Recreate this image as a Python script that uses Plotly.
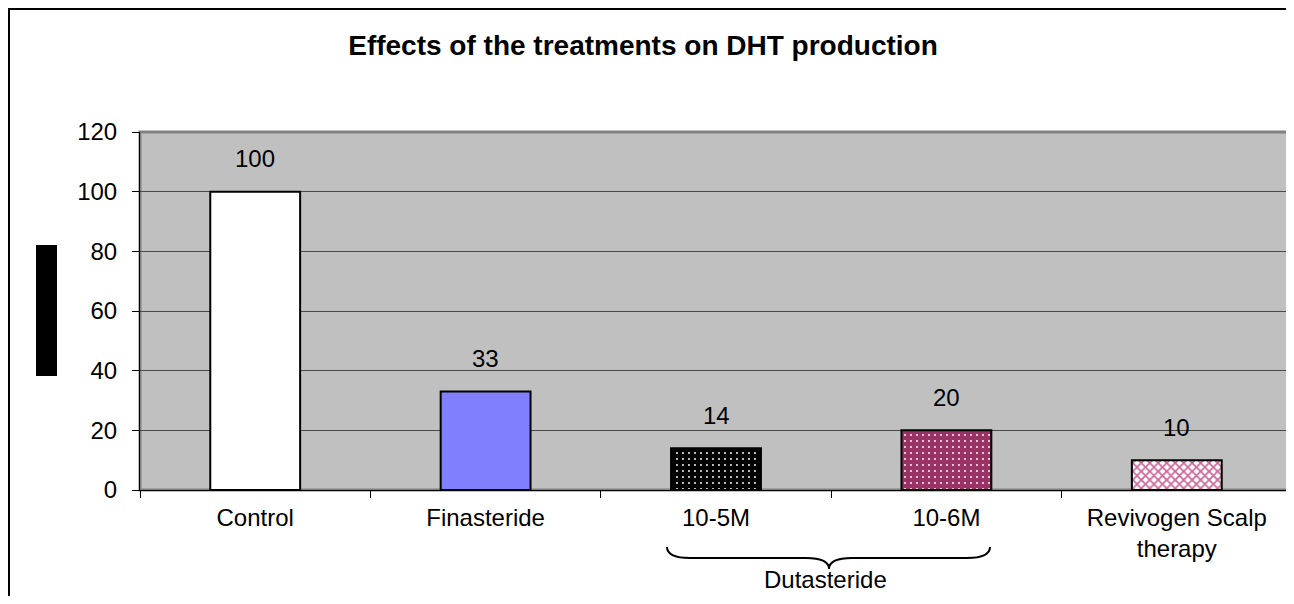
import plotly.graph_objects as go

categories = ["Control", "Finasteride", "10-5M", "10-6M", "Revivogen Scalp therapy"]
tick_labels = ["Control", "Finasteride", "10-5M", "10-6M", "Revivogen Scalp<br>therapy"]
values = [100, 33, 14, 20, 10]
y_ticks = [0, 20, 40, 60, 80, 100, 120]
title_text = "Effects of the treatments on DHT production"
group_label = "Dutasteride"

bar_colors = ["#FFFFFF", "#8080FF", "#000000", "#993366", "#FFFFFF"]
pattern_shapes = ["", "", ".", ".", "x"]
pattern_fg = ["#FFFFFF", "#FFFFFF", "#FFFFFF", "#FFFFFF", "#CC6699"]
pattern_solidity = [0.1, 0.1, 0.08, 0.08, 0.5]

# screen geometry (page has an 8px body margin)
W, H = 1294, 604
OFF = 8
FIG_W, FIG_H = W - 2 * OFF, H - 2 * OFF
L, R, T, B = 140, OFF + FIG_W, 132, 490     # plot area, screen px
CAT_STEP = 230.4                              # reference px per category
FONT = "Liberation Sans, Arial, sans-serif"
FS = 24


def px_x(px):
    return (px - L) / (R - L)


def px_y(py):
    return (B - py) / (B - T)


fig = go.Figure()
for c, v, col, shp, fg, sol in zip(categories, values, bar_colors,
                                   pattern_shapes, pattern_fg, pattern_solidity):
    fig.add_trace(go.Bar(
        x=[c], y=[v], width=0.39,
        marker=dict(
            color=col,
            line=dict(color="#000000", width=2),
            pattern=dict(shape=shp, fgcolor=fg, fgopacity=1,
                         size=6, solidity=sol, fillmode="overlay"),
        ),
        hoverinfo="skip",
    ))

for c, v in zip(categories, values):
    fig.add_annotation(x=c, y=v, text=str(v), showarrow=False,
                       yshift=33, yanchor="middle",
                       font=dict(family=FONT, size=FS, color="#000000"))

# Dutasteride brace
bx = [667, 690, 806, 829, 852, 967, 990]
by = [547, 558, 558, 569, 558, 558, 547]
path = (f"M {px_x(bx[0])},{px_y(by[0])} "
        f"Q {px_x(bx[0])},{px_y(by[1])} {px_x(bx[1])},{px_y(by[1])} "
        f"L {px_x(bx[2])},{px_y(by[2])} "
        f"Q {px_x(bx[3])},{px_y(by[2])} {px_x(bx[3])},{px_y(by[3])} "
        f"Q {px_x(bx[3])},{px_y(by[4])} {px_x(bx[4])},{px_y(by[4])} "
        f"L {px_x(bx[5])},{px_y(by[5])} "
        f"Q {px_x(bx[6])},{px_y(by[5])} {px_x(bx[6])},{px_y(by[6])}")
fig.add_shape(type="path", path=path, xref="paper", yref="paper",
              line=dict(color="#000000", width=2))
fig.add_annotation(x=px_x(825), y=px_y(579), xref="paper", yref="paper",
                   text=group_label, showarrow=False, yanchor="middle",
                   font=dict(family=FONT, size=FS, color="#000000"))

# black block (axis title placeholder)
fig.add_shape(type="rect", xref="paper", yref="paper",
              x0=px_x(36), x1=px_x(57), y0=px_y(376), y1=px_y(245),
              fillcolor="#000000", line=dict(width=0))

# outer chart border (left and top edges visible)
fig.add_shape(type="rect", xref="paper", yref="paper",
              x0=px_x(OFF + 1), x1=px_x(1400), y0=px_y(700), y1=px_y(OFF + 1),
              line=dict(color="#000000", width=2))

# plot-area border (grey)
fig.add_shape(type="rect", xref="paper", yref="paper",
              x0=0, x1=1.2, y0=0, y1=1, layer="below",
              line=dict(color="#808080", width=3))

fig.update_layout(
    width=FIG_W, height=FIG_H,
    margin=dict(l=L - OFF, r=0, t=T - OFF, b=OFF + FIG_H - B, pad=0),
    paper_bgcolor="#FFFFFF",
    plot_bgcolor="#C0C0C0",
    showlegend=False,
    barmode="overlay",
    title=dict(text=f"<b>{title_text}</b>", x=px_x(643), xref="paper",
               xanchor="center",
               y=1 - (45 - OFF) / FIG_H, yanchor="middle",
               font=dict(family=FONT, size=28, color="#000000")),
    font=dict(family=FONT, size=FS, color="#000000"),
)
fig.update_xaxes(
    type="category",
    categoryorder="array", categoryarray=categories,
    tickvals=categories, ticktext=tick_labels,
    range=[-0.5, -0.5 + (R - L) / CAT_STEP],
    showgrid=False, showline=True, linecolor="#000000", linewidth=1,
    ticks="outside", tickson="boundaries", ticklen=7, tickcolor="#000000",
    tickfont=dict(family=FONT, size=FS, color="#000000"),
    ticklabelstandoff=6,
)
fig.update_yaxes(
    range=[0, 120], tickvals=y_ticks,
    showgrid=True, gridcolor="#4A4A4A", gridwidth=1,
    showline=True, linecolor="#000000", linewidth=1,
    ticks="outside", ticklen=7, tickcolor="#000000",
    tickfont=dict(family=FONT, size=FS, color="#000000"),
    ticklabelstandoff=10, zeroline=False,
)

fig.write_html("out.html")
